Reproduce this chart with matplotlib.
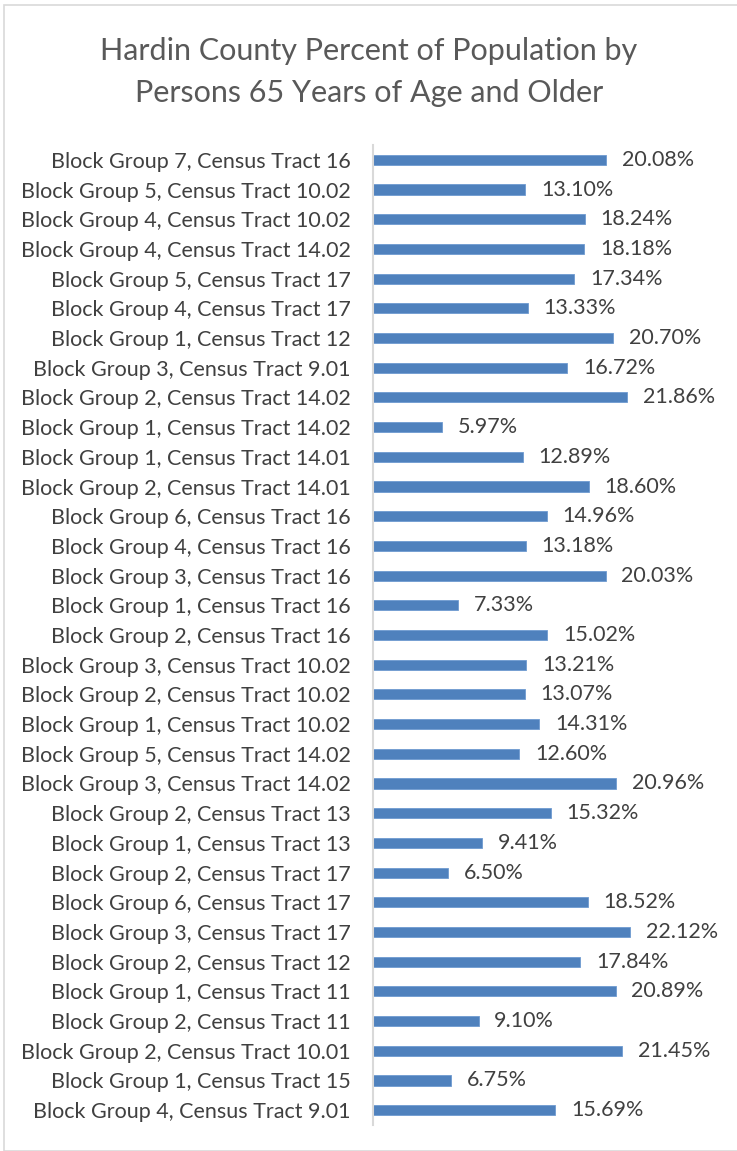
import matplotlib.pyplot as plt
from matplotlib.patches import Rectangle

# Données (de haut en bas)
labels = [
    "Block Group 7, Census Tract 16",
    "Block Group 5, Census Tract 10.02",
    "Block Group 4, Census Tract 10.02",
    "Block Group 4, Census Tract 14.02",
    "Block Group 5, Census Tract 17",
    "Block Group 4, Census Tract 17",
    "Block Group 1, Census Tract 12",
    "Block Group 3, Census Tract 9.01",
    "Block Group 2, Census Tract 14.02",
    "Block Group 1, Census Tract 14.02",
    "Block Group 1, Census Tract 14.01",
    "Block Group 2, Census Tract 14.01",
    "Block Group 6, Census Tract 16",
    "Block Group 4, Census Tract 16",
    "Block Group 3, Census Tract 16",
    "Block Group 1, Census Tract 16",
    "Block Group 2, Census Tract 16",
    "Block Group 3, Census Tract 10.02",
    "Block Group 2, Census Tract 10.02",
    "Block Group 1, Census Tract 10.02",
    "Block Group 5, Census Tract 14.02",
    "Block Group 3, Census Tract 14.02",
    "Block Group 2, Census Tract 13",
    "Block Group 1, Census Tract 13",
    "Block Group 2, Census Tract 17",
    "Block Group 6, Census Tract 17",
    "Block Group 3, Census Tract 17",
    "Block Group 2, Census Tract 12",
    "Block Group 1, Census Tract 11",
    "Block Group 2, Census Tract 11",
    "Block Group 2, Census Tract 10.01",
    "Block Group 1, Census Tract 15",
    "Block Group 4, Census Tract 9.01",
]
values = [20.08, 13.10, 18.24, 18.18, 17.34, 13.33, 20.70, 16.72, 21.86, 5.97,
          12.89, 18.60, 14.96, 13.18, 20.03, 7.33, 15.02, 13.21, 13.07, 14.31,
          12.60, 20.96, 15.32, 9.41, 6.50, 18.52, 22.12, 17.84, 20.89, 9.10,
          21.45, 6.75, 15.69]

plt.rcParams['font.family'] = ['Lato', 'DejaVu Sans']

W, H = 737, 1151
fig = plt.figure(figsize=(W / 100, H / 100), dpi=100)

# cadre gris clair
fig.patches.append(Rectangle((4 / W, 0), 2, (H - 5) / H, transform=fig.transFigure,
                             fill=False, edgecolor='#d9d9d9', linewidth=1.2))

ax = fig.add_axes([373 / W, 26 / H, 360 / W, 980 / H])
y = list(range(len(labels)))
ax.barh(y, values, height=0.34, color='#4f81bd', edgecolor='#6f9ad0', linewidth=0.6)
for yi, v in zip(y, values):
    ax.text(v + 1.35, yi, f"{v:.2f}%", va='center', ha='left', fontsize=15.5, color='#404040')

ax.set_yticks(y)
ax.set_yticklabels(labels, fontsize=15.5, color='#404040')
ax.set_ylim(len(labels) - 0.5, -0.5)
ax.set_xlim(0, 31)
ax.set_xticks([])
ax.tick_params(axis='y', length=0, pad=16)
for s in ['top', 'right', 'bottom']:
    ax.spines[s].set_visible(False)
ax.spines['left'].set_color('#d9d9d9')
ax.spines['left'].set_linewidth(1.5)

fig.text(369 / W, 1 - 51 / H, "Hardin County Percent of Population by", ha='center', va='center',
         fontsize=22, color='#595959')
fig.text(369 / W, 1 - 93 / H, "Persons 65 Years of Age and Older", ha='center', va='center',
         fontsize=22, color='#595959')

fig.savefig("out.png", dpi=100)
